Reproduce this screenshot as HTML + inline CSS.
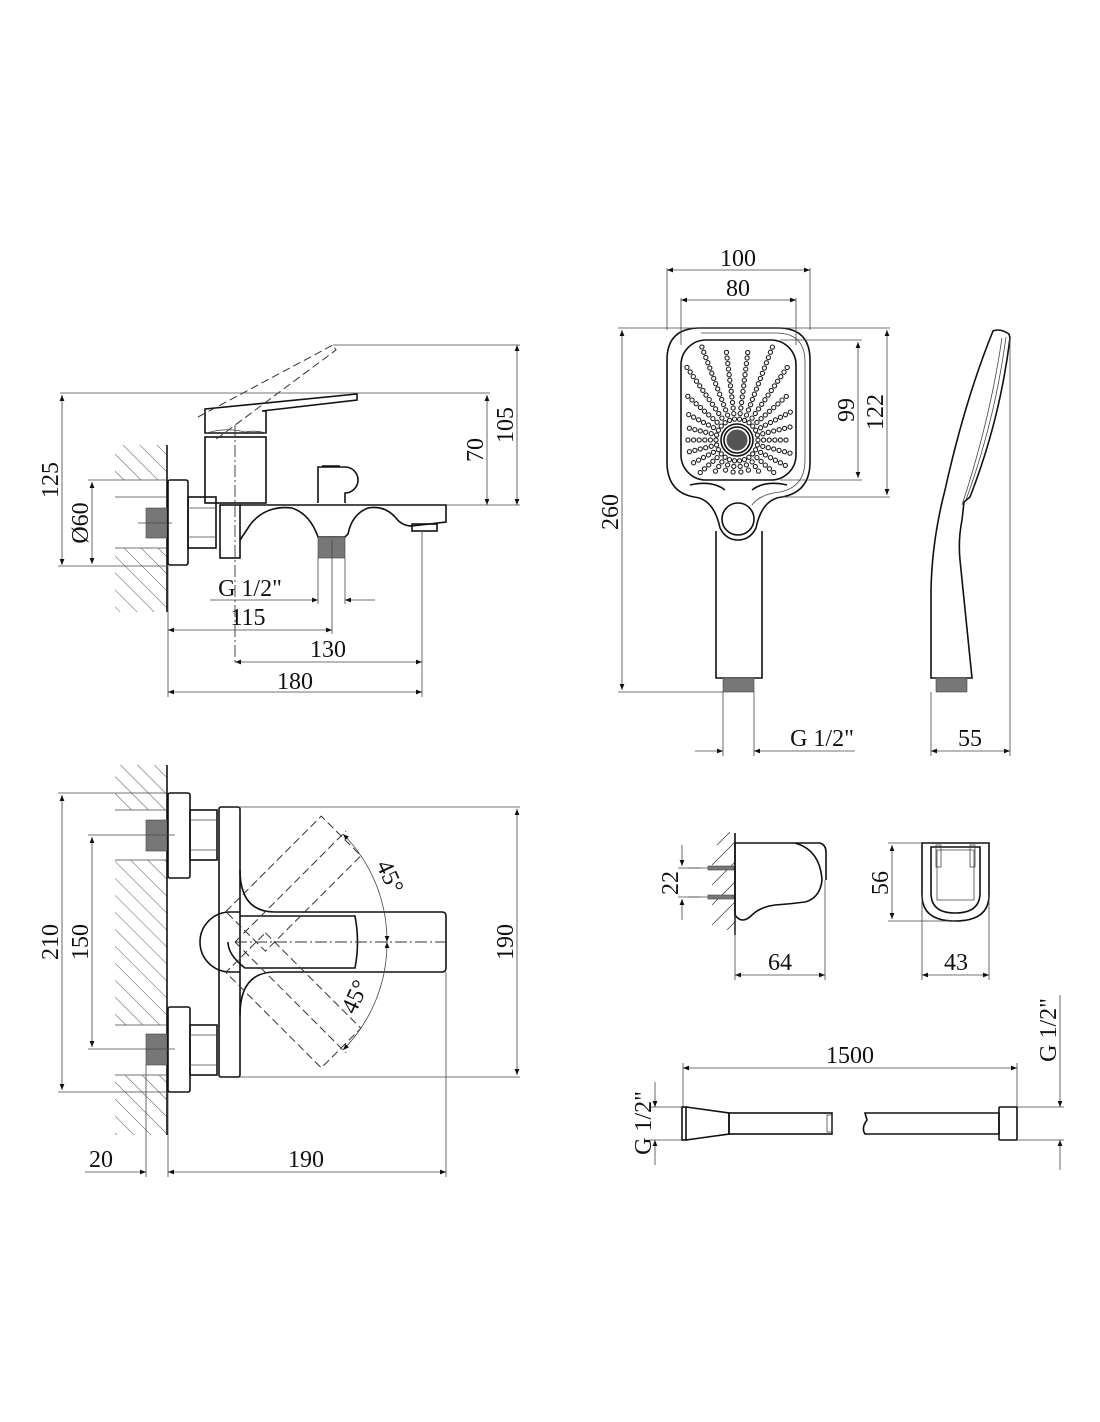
<!DOCTYPE html>
<html><head><meta charset="utf-8"><style>
html,body{margin:0;padding:0;background:#fff}
svg{display:block}
text{font-family:"Liberation Serif",serif;font-size:24px;fill:#111}
.o{fill:none;stroke:#111;stroke-width:1.6}
.t{fill:none;stroke:#444;stroke-width:0.8}
.d{fill:none;stroke:#333;stroke-width:1;stroke-dasharray:8 4}
.c{fill:none;stroke:#333;stroke-width:0.9;stroke-dasharray:12 3 2 3}
.h{stroke:#444;stroke-width:0.9}
.g{fill:#777;stroke:#444;stroke-width:0.6}
</style></head><body>
<svg width="1100" height="1422" viewBox="0 0 1100 1422" xmlns="http://www.w3.org/2000/svg">
<defs>
<marker id="a" viewBox="0 0 10 10" refX="10" refY="5" markerWidth="14" markerHeight="6" orient="auto-start-reverse" markerUnits="userSpaceOnUse"><path d="M0,1 L10,5 L0,9 z" fill="#111"/></marker>
<pattern id="hp" width="12" height="12" patternUnits="userSpaceOnUse" patternTransform="rotate(-45)"><line x1="0" y1="0" x2="0" y2="12" class="h"/></pattern>
</defs>

<!-- ===== TOP LEFT: side view of mixer ===== -->
<rect x="115" y="445" width="52" height="35" fill="url(#hp)"/>
<rect x="115" y="548" width="52" height="64" fill="url(#hp)"/>
<line x1="167" y1="445" x2="167" y2="612" class="o" stroke-width="1.2"/>
<line x1="115" y1="497" x2="167" y2="497" class="t"/>
<line x1="115" y1="548" x2="167" y2="548" class="t"/>
<rect x="146" y="508" width="21" height="30" class="g"/>
<line x1="138" y1="523" x2="172" y2="523" class="t"/>
<rect x="168" y="480" width="20" height="85" rx="2" class="o"/>
<rect x="188" y="497" width="28" height="51" class="o"/>
<line x1="188" y1="508" x2="216" y2="508" class="t"/><line x1="188" y1="537" x2="216" y2="537" class="t"/>
<rect x="220" y="505" width="20" height="53" class="o"/>
<rect x="205" y="437" width="61" height="66" class="o"/>
<path d="M205,409 L357,394 L357,400 L262,411 L266,411 L266,433 L205,433 Z" class="o"/>
<path d="M207,433 Q225,427 245,432 Q255,430 266,433" class="t"/>
<path d="M198,417 L333,345 L336,350 L215,440" class="d"/>
<line x1="235" y1="425" x2="235" y2="665" class="c"/>
<path d="M318,503 L318,467 L345,467 A13,13 0 0 1 345,493 L345,503" class="o"/>
<line x1="322" y1="466" x2="340" y2="466" class="o" stroke-width="2"/>
<path d="M240,505 L446,505 L446,522 L412,526 Q402,526 396,518 Q385,505 368,508 Q352,514 348,534 L345,537 L318,537 Q310,514 292,508 Q265,505 250,525 L240,540" class="o"/>
<rect x="412" y="524" width="25" height="7" class="o"/>
<rect x="318" y="537" width="27" height="21" class="g"/>
<line x1="333" y1="345" x2="520" y2="345" class="t"/>
<line x1="517" y1="345" x2="517" y2="505" class="t" marker-start="url(#a)" marker-end="url(#a)"/>
<line x1="60" y1="393" x2="490" y2="393" class="t"/>
<line x1="487" y1="395" x2="487" y2="505" class="t" marker-start="url(#a)" marker-end="url(#a)"/>
<line x1="446" y1="505" x2="520" y2="505" class="t"/>
<line x1="62" y1="395" x2="62" y2="565" class="t" marker-start="url(#a)" marker-end="url(#a)"/>
<line x1="58" y1="566" x2="168" y2="566" class="t"/>
<line x1="88" y1="480" x2="168" y2="480" class="t"/>
<line x1="92" y1="482" x2="92" y2="564" class="t" marker-start="url(#a)" marker-end="url(#a)"/>
<text transform="translate(517,425) rotate(-90)" text-anchor="middle" dy="-4">105</text>
<text transform="translate(487,450) rotate(-90)" text-anchor="middle" dy="-4">70</text>
<text transform="translate(62,480) rotate(-90)" text-anchor="middle" dy="-4">125</text>
<text transform="translate(92,523) rotate(-90)" text-anchor="middle" dy="-4">Ø60</text>
<line x1="318" y1="558" x2="318" y2="604" class="t"/>
<line x1="345" y1="558" x2="345" y2="604" class="t"/>
<line x1="210" y1="600" x2="318" y2="600" class="t" marker-end="url(#a)"/>
<line x1="345" y1="600" x2="375" y2="600" class="t" marker-start="url(#a)"/>
<text x="250" y="596" text-anchor="middle">G 1/2"</text>
<line x1="168" y1="566" x2="168" y2="697" class="t"/>
<line x1="332" y1="540" x2="332" y2="634" class="t"/>
<line x1="422" y1="531" x2="422" y2="697" class="t"/>
<line x1="168" y1="630" x2="332" y2="630" class="t" marker-start="url(#a)" marker-end="url(#a)"/>
<text x="248" y="625" text-anchor="middle">115</text>
<line x1="235" y1="662" x2="422" y2="662" class="t" marker-start="url(#a)" marker-end="url(#a)"/>
<text x="328" y="657" text-anchor="middle">130</text>
<line x1="168" y1="692" x2="422" y2="692" class="t" marker-start="url(#a)" marker-end="url(#a)"/>
<text x="295" y="689" text-anchor="middle">180</text>

<!-- ===== BOTTOM LEFT: top view ===== -->
<rect x="115" y="765" width="52" height="45" fill="url(#hp)"/>
<rect x="115" y="860" width="52" height="165" fill="url(#hp)"/>
<rect x="115" y="1075" width="52" height="60" fill="url(#hp)"/>
<line x1="167" y1="765" x2="167" y2="1135" class="o" stroke-width="1.2"/>
<line x1="115" y1="810" x2="167" y2="810" class="t"/><line x1="115" y1="860" x2="167" y2="860" class="t"/>
<line x1="115" y1="1025" x2="167" y2="1025" class="t"/><line x1="115" y1="1075" x2="167" y2="1075" class="t"/>
<rect x="146" y="820" width="21" height="31" class="g"/>
<rect x="146" y="1034" width="21" height="31" class="g"/>
<rect x="168" y="793" width="22" height="85" rx="2" class="o"/>
<rect x="168" y="1007" width="22" height="85" rx="2" class="o"/>
<rect x="190" y="810" width="27" height="50" class="o"/>
<line x1="190" y1="820" x2="217" y2="820" class="t"/><line x1="190" y1="850" x2="217" y2="850" class="t"/>
<rect x="190" y="1025" width="27" height="50" class="o"/>
<line x1="190" y1="1035" x2="217" y2="1035" class="t"/><line x1="190" y1="1065" x2="217" y2="1065" class="t"/>
<rect x="219" y="807" width="21" height="270" rx="2" class="o"/>
<path d="M240,870 Q240,912 275,912 L442,912 Q446,912 446,916 L446,968 Q446,972 442,972 L275,972 Q240,972 240,1015" class="o"/>
<path d="M240,912 L230,912 A30,30 0 0 0 230,972 L240,972" class="o"/>
<path d="M240,916 L355,916 Q360,942 355,968 L245,968 Q228,955 228,942" class="o" stroke-width="1.2"/>
<line x1="235" y1="942" x2="447" y2="942" class="c"/>
<g transform="rotate(-45 235 942)" class="d"><rect x="250" y="914" width="135" height="56"/><line x1="235" y1="942" x2="392" y2="942"/></g>
<g transform="rotate(45 235 942)" class="d"><rect x="250" y="914" width="135" height="56"/><line x1="235" y1="942" x2="392" y2="942"/></g>
<path d="M343,834 A152,152 0 0 1 387,942" class="t" marker-start="url(#a)" marker-end="url(#a)"/>
<path d="M387,942 A152,152 0 0 1 343,1050" class="t" marker-start="url(#a)" marker-end="url(#a)"/>
<text transform="translate(383,880) rotate(65)" text-anchor="middle">45°</text>
<text transform="translate(362,1000) rotate(-65)" text-anchor="middle">45°</text>
<line x1="240" y1="807" x2="520" y2="807" class="t"/>
<line x1="240" y1="1077" x2="520" y2="1077" class="t"/>
<line x1="517" y1="809" x2="517" y2="1075" class="t" marker-start="url(#a)" marker-end="url(#a)"/>
<text transform="translate(517,942) rotate(-90)" text-anchor="middle" dy="-4">190</text>
<line x1="58" y1="793" x2="168" y2="793" class="t"/>
<line x1="58" y1="1092" x2="168" y2="1092" class="t"/>
<line x1="62" y1="795" x2="62" y2="1090" class="t" marker-start="url(#a)" marker-end="url(#a)"/>
<text transform="translate(62,942) rotate(-90)" text-anchor="middle" dy="-4">210</text>
<line x1="88" y1="835" x2="175" y2="835" class="t"/>
<line x1="88" y1="1049" x2="175" y2="1049" class="t"/>
<line x1="92" y1="837" x2="92" y2="1047" class="t" marker-start="url(#a)" marker-end="url(#a)"/>
<text transform="translate(92,942) rotate(-90)" text-anchor="middle" dy="-4">150</text>
<line x1="146" y1="1065" x2="146" y2="1177" class="t"/>
<line x1="168" y1="1092" x2="168" y2="1177" class="t"/>
<line x1="446" y1="972" x2="446" y2="1177" class="t"/>
<line x1="85" y1="1172" x2="146" y2="1172" class="t" marker-end="url(#a)"/>
<line x1="168" y1="1172" x2="446" y2="1172" class="t" marker-start="url(#a)" marker-end="url(#a)"/>
<text x="101" y="1167" text-anchor="middle">20</text>
<text x="306" y="1167" text-anchor="middle">190</text>

<!-- ===== TOP RIGHT: hand shower ===== -->
<path d="M700,328 L778,328 Q810,328 810,360 L810,462 Q810,492 782,497 Q762,499 756,528 Q750,540 738,540 Q726,540 720,528 Q714,499 694,497 Q667,492 667,462 L667,360 Q667,328 700,328 Z" class="o"/>
<path d="M701,333 L776,333 Q805,333 805,362 L805,460 Q805,487 780,492 Q760,494 752,505" class="t"/>
<rect x="681" y="340" width="115" height="140" rx="25" class="o" stroke-width="1.2"/>
<path d="M690,485 Q712,480 725,490" class="o" stroke-width="1.2"/>
<path d="M752,490 Q765,480 787,485" class="o" stroke-width="1.2"/>
<circle cx="738" cy="519" r="16" class="o"/>
<path d="M716,531 L716,678 L762,678 L762,531" class="o"/>
<rect x="723" y="678" width="31" height="14" class="g"/>
<circle cx="737" cy="440" r="16" class="o" stroke-width="1.2"/>
<circle cx="737" cy="440" r="13" class="o" stroke-width="1"/>
<circle cx="737" cy="440" r="10.5" fill="#555"/>
<g id="dots" fill="none" stroke="#222" stroke-width="1.1"></g>
<line x1="667" y1="268" x2="667" y2="330" class="t"/>
<line x1="810" y1="268" x2="810" y2="330" class="t"/>
<line x1="681" y1="298" x2="681" y2="345" class="t"/>
<line x1="796" y1="298" x2="796" y2="345" class="t"/>
<line x1="667" y1="270" x2="810" y2="270" class="t" marker-start="url(#a)" marker-end="url(#a)"/>
<line x1="681" y1="300" x2="796" y2="300" class="t" marker-start="url(#a)" marker-end="url(#a)"/>
<text x="738" y="266" text-anchor="middle">100</text>
<text x="738" y="296" text-anchor="middle">80</text>
<line x1="618" y1="328" x2="890" y2="328" class="t"/>
<line x1="780" y1="340" x2="862" y2="340" class="t"/>
<line x1="780" y1="480" x2="862" y2="480" class="t"/>
<line x1="782" y1="497" x2="890" y2="497" class="t"/>
<line x1="858" y1="342" x2="858" y2="478" class="t" marker-start="url(#a)" marker-end="url(#a)"/>
<line x1="887" y1="330" x2="887" y2="495" class="t" marker-start="url(#a)" marker-end="url(#a)"/>
<text transform="translate(858,410) rotate(-90)" text-anchor="middle" dy="-4">99</text>
<text transform="translate(887,412) rotate(-90)" text-anchor="middle" dy="-4">122</text>
<line x1="618" y1="692" x2="723" y2="692" class="t"/>
<line x1="622" y1="330" x2="622" y2="690" class="t" marker-start="url(#a)" marker-end="url(#a)"/>
<text transform="translate(622,512) rotate(-90)" text-anchor="middle" dy="-4">260</text>
<line x1="723" y1="692" x2="723" y2="756" class="t"/>
<line x1="754" y1="692" x2="754" y2="756" class="t"/>
<line x1="695" y1="751" x2="723" y2="751" class="t" marker-end="url(#a)"/>
<line x1="754" y1="751" x2="855" y2="751" class="t" marker-start="url(#a)"/>
<text x="822" y="746" text-anchor="middle">G 1/2"</text>
<path d="M993,331 Q1000,328 1009,334 L1010,338 Q1000,420 970,497 L964,502 L962,520 Q958,540 960,560 L972,678 L931,678 L931,590 Q932,540 945,490 Q965,400 993,331 Z" class="o"/>
<path d="M1006,337 Q995,420 966,500" class="t"/>
<path d="M1002,338 Q990,420 962,505" class="t"/>
<rect x="936" y="678" width="31" height="14" class="g"/>
<line x1="1010" y1="338" x2="1010" y2="756" class="t"/>
<line x1="931" y1="692" x2="931" y2="756" class="t"/>
<line x1="931" y1="751" x2="1010" y2="751" class="t" marker-start="url(#a)" marker-end="url(#a)"/>
<text x="970" y="746" text-anchor="middle">55</text>

<!-- ===== holders ===== -->
<g class="t"><line x1="717" y1="845" x2="730" y2="832"/><line x1="712" y1="865" x2="735" y2="842"/><line x1="712" y1="885" x2="735" y2="862"/><line x1="712" y1="905" x2="735" y2="882"/><line x1="712" y1="925" x2="735" y2="902"/><line x1="727" y1="930" x2="735" y2="922"/></g>
<line x1="735" y1="833" x2="735" y2="935" class="o" stroke-width="1.2"/>
<line x1="688" y1="868" x2="735" y2="868" class="t"/><rect x="708" y="866" width="26" height="4" class="g"/>
<line x1="688" y1="897" x2="735" y2="897" class="t"/><rect x="708" y="895" width="26" height="4" class="g"/>
<path d="M735,843 L795,843 Q820,850 822,880 Q820,898 805,902 Q790,904 775,905 Q760,907 752,915 Q742,925 735,915 Z" class="o"/>
<path d="M795,843 L820,843 Q826,845 826,852 L826,880" class="o" stroke-width="1.2"/>
<line x1="678" y1="868" x2="700" y2="868" class="t"/>
<line x1="678" y1="897" x2="700" y2="897" class="t"/>
<line x1="682" y1="845" x2="682" y2="866" class="t" marker-end="url(#a)"/>
<line x1="682" y1="920" x2="682" y2="899" class="t" marker-end="url(#a)"/>
<text transform="translate(682,883) rotate(-90)" text-anchor="middle" dy="-4">22</text>
<line x1="735" y1="915" x2="735" y2="980" class="t"/>
<line x1="825" y1="880" x2="825" y2="980" class="t"/>
<line x1="735" y1="975" x2="825" y2="975" class="t" marker-start="url(#a)" marker-end="url(#a)"/>
<text x="780" y="970" text-anchor="middle">64</text>
<path d="M922,843 L989,843 L989,895 Q989,921 955,921 Q922,921 922,895 Z" class="o"/>
<path d="M931,847 L980,847 L980,893 Q980,913 955,913 Q931,913 931,893 Z" class="o" stroke-width="1.1"/>
<path d="M937,850 L974,850 L974,900 L937,900 Z" class="t"/>
<rect x="936" y="845" width="5" height="22" class="t"/><rect x="970" y="845" width="5" height="22" class="t"/>
<line x1="888" y1="843" x2="922" y2="843" class="t"/>
<line x1="888" y1="921" x2="955" y2="921" class="t"/>
<line x1="892" y1="845" x2="892" y2="919" class="t" marker-start="url(#a)" marker-end="url(#a)"/>
<text transform="translate(892,883) rotate(-90)" text-anchor="middle" dy="-4">56</text>
<line x1="922" y1="895" x2="922" y2="980" class="t"/>
<line x1="989" y1="895" x2="989" y2="980" class="t"/>
<line x1="922" y1="975" x2="989" y2="975" class="t" marker-start="url(#a)" marker-end="url(#a)"/>
<text x="956" y="970" text-anchor="middle">43</text>

<!-- ===== hose ===== -->
<line x1="683" y1="1063" x2="683" y2="1107" class="t"/>
<line x1="1017" y1="1063" x2="1017" y2="1107" class="t"/>
<line x1="683" y1="1068" x2="1017" y2="1068" class="t" marker-start="url(#a)" marker-end="url(#a)"/>
<text x="850" y="1063" text-anchor="middle">1500</text>
<rect x="682" y="1107" width="4" height="33" class="o"/>
<path d="M686,1107 L729,1113 L729,1134 L686,1140" class="o"/>
<rect x="729" y="1113" width="103" height="21" class="o"/>
<rect x="827" y="1115" width="5" height="17" class="t"/>
<path d="M865,1113 L999,1113 L999,1134 L865,1134 Q861,1128 867,1120 Z" class="o"/>
<rect x="999" y="1107" width="18" height="33" rx="1" class="o"/>
<line x1="650" y1="1107" x2="682" y2="1107" class="t"/>
<line x1="650" y1="1140" x2="682" y2="1140" class="t"/>
<line x1="655" y1="1082" x2="655" y2="1107" class="t" marker-end="url(#a)"/>
<line x1="655" y1="1165" x2="655" y2="1140" class="t" marker-end="url(#a)"/>
<text transform="translate(655,1123) rotate(-90)" text-anchor="middle" dy="-4">G 1/2"</text>
<line x1="1017" y1="1107" x2="1064" y2="1107" class="t"/>
<line x1="1017" y1="1140" x2="1064" y2="1140" class="t"/>
<line x1="1060" y1="995" x2="1060" y2="1107" class="t" marker-end="url(#a)"/>
<line x1="1060" y1="1170" x2="1060" y2="1140" class="t" marker-end="url(#a)"/>
<text transform="translate(1060,1030) rotate(-90)" text-anchor="middle" dy="-4">G 1/2"</text>
</svg>
<script>
(function(){var g=document.getElementById('dots'),cx=737,cy=440,h='';
for(var a=0;a<360;a+=13.85){var r=a*Math.PI/180;for(var d=21;d<110;d+=5.6){var x=cx+d*Math.cos(r),y=cy+d*Math.sin(r);
if(x<686||x>791||y<347||y>474)continue;var dx=Math.max(0,Math.max(706-x,x-771)),dy=Math.max(0,Math.max(365-y,y-455));if(dx*dx+dy*dy>380)continue;
h+='<circle cx="'+x.toFixed(1)+'" cy="'+y.toFixed(1)+'" r="2.1"/>';}}
g.innerHTML=h;})();
</script>
</body></html>
